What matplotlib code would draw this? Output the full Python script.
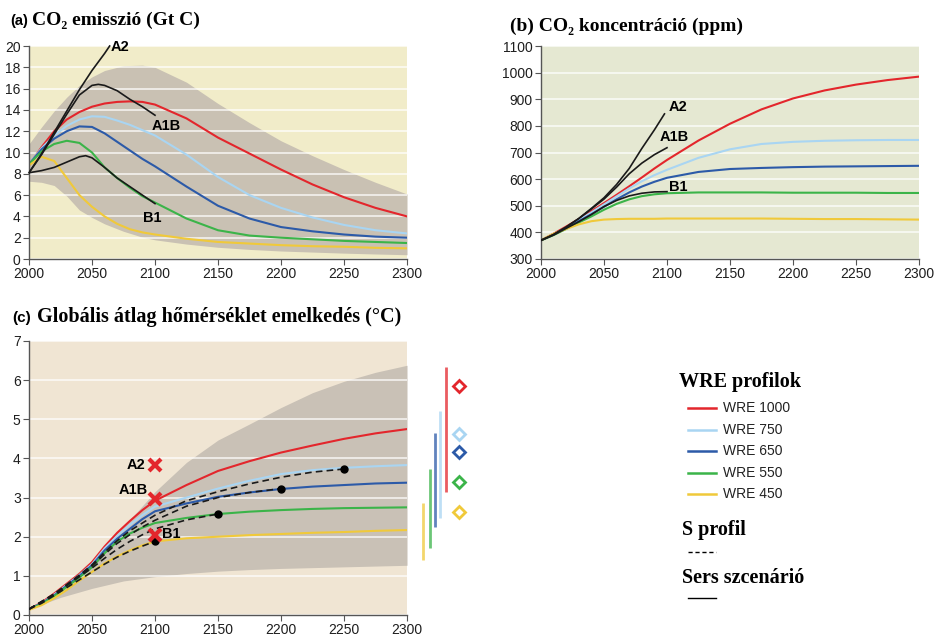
import matplotlib
matplotlib.use("Agg")
import matplotlib.pyplot as plt
from matplotlib.lines import Line2D

SANS = ["Liberation Sans", "DejaVu Sans"]
SERIF = ["Liberation Serif", "DejaVu Serif"]
plt.rcParams['font.family'] = SANS

# colours of the WRE profiles
C1000 = "#e3262c"
C750 = "#a9d5f2"
C650 = "#2c5aa8"
C550 = "#3bb449"
C450 = "#f0c93a"

# ---------------- (a) CO2 emissions ----------------
yrs = [2000, 2010, 2020, 2030, 2040, 2050, 2060, 2070, 2080, 2090, 2100,
       2125, 2150, 2175, 2200, 2225, 2250, 2275, 2300]
em_1000 = [8.8, 10.5, 12.0, 13.1, 13.8, 14.3, 14.6, 14.75, 14.8, 14.75, 14.5,
           13.2, 11.4, 9.9, 8.4, 7.0, 5.8, 4.8, 4.0]
em_750 = [8.9, 10.4, 11.6, 12.5, 13.1, 13.4, 13.35, 13.0, 12.6, 12.1, 11.6,
          9.8, 7.7, 6.0, 4.8, 3.9, 3.2, 2.7, 2.4]
em_650 = [8.9, 10.3, 11.3, 12.0, 12.45, 12.4, 11.8, 11.0, 10.2, 9.4, 8.7,
          6.8, 5.0, 3.8, 3.0, 2.6, 2.3, 2.1, 2.0]
em_550 = [8.9, 10.1, 10.8, 11.1, 10.9, 10.0, 8.6, 7.6, 6.7, 5.9, 5.3,
          3.8, 2.7, 2.2, 2.0, 1.85, 1.7, 1.6, 1.5]
em_450 = [8.8, 9.6, 9.2, 7.6, 6.0, 4.9, 4.0, 3.3, 2.8, 2.5, 2.3,
          1.9, 1.6, 1.45, 1.3, 1.2, 1.15, 1.05, 1.0]

em_band_yrs = [2000, 2010, 2020, 2030, 2040, 2050, 2060, 2075, 2090, 2100,
               2125, 2150, 2175, 2200, 2225, 2250, 2275, 2300]
em_band_hi = [10.8, 12.4, 13.9, 15.2, 16.3, 17.1, 17.7, 18.15, 18.2, 18.0,
              16.6, 14.6, 12.8, 11.1, 9.7, 8.4, 7.2, 6.1]
em_band_lo = [7.3, 7.2, 6.9, 5.9, 4.6, 3.9, 3.3, 2.6, 2.05, 1.8,
              1.4, 1.1, 0.9, 0.75, 0.65, 0.55, 0.47, 0.4]

em_a2_yrs = [2000, 2010, 2020, 2030, 2040, 2050, 2060, 2064]
em_a2 = [8.1, 9.9, 11.9, 13.9, 15.9, 17.7, 19.3, 20.0]
em_a1b_yrs = [2000, 2010, 2020, 2030, 2040, 2050, 2055, 2060, 2070, 2080, 2090, 2100]
em_a1b = [8.1, 9.8, 11.7, 13.6, 15.4, 16.3, 16.4, 16.3, 15.8, 15.0, 14.3, 13.5]
em_b1_yrs = [2000, 2010, 2020, 2030, 2040, 2045, 2050, 2060, 2070, 2080, 2090, 2100]
em_b1 = [8.1, 8.3, 8.6, 9.1, 9.6, 9.7, 9.5, 8.6, 7.6, 6.8, 6.0, 5.2]

# ---------------- (b) CO2 concentration ----------------
co_1000 = [370, 395, 422, 450, 480, 510, 541, 573, 606, 640, 672,
           745, 808, 862, 903, 933, 955, 972, 985]
co_750 = [370, 392, 418, 446, 475, 505, 535, 565, 592, 615, 635,
          680, 712, 732, 740, 744, 746, 747, 747]
co_650 = [370, 391, 416, 442, 468, 496, 524, 550, 572, 590, 605,
          627, 638, 642, 645, 647, 648, 649, 650]
co_550 = [370, 390, 413, 437, 460, 485, 507, 524, 536, 543, 547,
          550, 550, 550, 549, 549, 549, 548, 548]
co_450 = [370, 395, 413, 430, 442, 448, 450, 451, 451, 451, 452,
          452, 452, 452, 451, 450, 450, 449, 448]

co_sres_yrs = [2000, 2010, 2020, 2030, 2040, 2050, 2060, 2070, 2080, 2090, 2100]
co_a2_yrs = [2000, 2010, 2020, 2030, 2040, 2050, 2060, 2070, 2080, 2090, 2098]
co_a2 = [370, 392, 420, 452, 490, 530, 580, 640, 715, 785, 845]
co_a1b = [370, 392, 420, 452, 488, 525, 570, 620, 660, 692, 718]
co_b1 = [370, 390, 415, 440, 467, 497, 520, 537, 547, 552, 553]

# ---------------- (c) temperature ----------------
t_1000 = [0.15, 0.32, 0.55, 0.8, 1.05, 1.35, 1.75, 2.1, 2.4, 2.68, 2.92,
          3.32, 3.68, 3.93, 4.15, 4.33, 4.5, 4.64, 4.75]
t_750 = [0.15, 0.3, 0.52, 0.77, 1.02, 1.3, 1.7, 2.02, 2.3, 2.55, 2.77,
         3.0, 3.23, 3.43, 3.6, 3.7, 3.76, 3.8, 3.83]
t_650 = [0.15, 0.3, 0.5, 0.75, 1.0, 1.27, 1.65, 1.95, 2.2, 2.45, 2.65,
         2.85, 3.02, 3.13, 3.22, 3.28, 3.32, 3.36, 3.38]
t_550 = [0.15, 0.28, 0.48, 0.72, 0.96, 1.22, 1.58, 1.88, 2.08, 2.23, 2.35,
         2.48, 2.58, 2.64, 2.68, 2.71, 2.73, 2.74, 2.75]
t_450 = [0.13, 0.25, 0.43, 0.64, 0.88, 1.1, 1.32, 1.5, 1.65, 1.78, 1.88,
         1.96, 2.0, 2.04, 2.07, 2.1, 2.12, 2.15, 2.17]

s450_yrs = [2000, 2010, 2020, 2030, 2040, 2050, 2060, 2070, 2080, 2090, 2100]
s450 = [0.15, 0.3, 0.5, 0.7, 0.9, 1.1, 1.3, 1.48, 1.63, 1.76, 1.88]
s550_yrs = [2000, 2020, 2040, 2050, 2060, 2070, 2080, 2090, 2100, 2125, 2150]
s550 = [0.15, 0.52, 0.98, 1.2, 1.45, 1.68, 1.88, 2.05, 2.2, 2.43, 2.58]
s650_yrs = [2000, 2020, 2040, 2050, 2060, 2070, 2080, 2090, 2100, 2125, 2150, 2175, 2200]
s650 = [0.15, 0.53, 1.0, 1.25, 1.55, 1.83, 2.05, 2.25, 2.42, 2.78, 3.0, 3.13, 3.23]
s750_yrs = [2000, 2020, 2040, 2050, 2060, 2070, 2080, 2090, 2100, 2125, 2150,
            2175, 2200, 2225, 2250]
s750 = [0.15, 0.54, 1.02, 1.28, 1.6, 1.9, 2.15, 2.35, 2.55, 2.92, 3.15,
        3.35, 3.52, 3.65, 3.73]
stab_yrs = [2100, 2150, 2200, 2250]
stab_t = [1.88, 2.58, 3.23, 3.73]

t_band_yrs = [2000, 2025, 2050, 2075, 2100, 2125, 2150, 2175, 2200, 2225, 2250, 2275, 2300]
t_band_hi = [0.15, 0.7, 1.4, 2.25, 3.15, 3.9, 4.47, 4.88, 5.3, 5.68, 5.97, 6.2, 6.38]
t_band_lo = [0.15, 0.45, 0.68, 0.87, 0.98, 1.06, 1.12, 1.16, 1.19, 1.21, 1.23, 1.25, 1.27]

sres_names = ["A2", "A1B", "B1"]
sres_2100 = [3.82, 2.97, 2.05]

# equilibrium ranges beside panel (c)
eq_names = ["WRE 1000", "WRE 750", "WRE 650", "WRE 550", "WRE 450"]
eq_colors = [C1000, C750, C650, C550, C450]
eq_lo = [3.14, 2.48, 2.25, 1.71, 1.40]
eq_hi = [6.34, 5.21, 4.65, 3.73, 2.86]
eq_best = [5.85, 4.62, 4.16, 3.40, 2.63]
eq_bar_x = [2331, 2326, 2322, 2318, 2313]
eq_mark_x = 2341

wre_a = [em_1000, em_750, em_650, em_550, em_450]
wre_b = [co_1000, co_750, co_650, co_550, co_450]
wre_c = [t_1000, t_750, t_650, t_550, t_450]


def style(ax, bg, ylim, yticks):
    ax.set_facecolor(bg)
    ax.set_xlim(2000, 2300)
    ax.set_ylim(*ylim)
    ax.set_xticks(range(2000, 2301, 50))
    ax.set_yticks(yticks)
    ax.set_axisbelow("line")
    ax.yaxis.grid(True, color="white", lw=1.1, alpha=0.85)
    for s in ["top", "right"]:
        ax.spines[s].set_visible(False)
    for s in ["left", "bottom"]:
        ax.spines[s].set_color("#555555")
        ax.spines[s].set_linewidth(1.0)
    ax.tick_params(labelsize=10, length=4, color="#555555", labelcolor="#1e1e1e", pad=2)


fig = plt.figure(figsize=(9.35, 6.39), dpi=100)
W, H = 935.0, 639.0

# (a)
axa = fig.add_axes([29 / W, 1 - 259 / H, 378 / W, 213 / H])
style(axa, "#f1ecc9", (0, 20), range(0, 21, 2))
axa.fill_between(em_band_yrs, em_band_lo, em_band_hi, color="#c9c1b3", lw=0, zorder=1)
for vals, c in zip(wre_a, eq_colors):
    axa.plot(yrs, vals, color=c, lw=1.5, zorder=2)
axa.plot(em_a2_yrs, em_a2, color="#1a1a1a", lw=1.2, zorder=3, clip_on=False)
axa.plot(em_a1b_yrs, em_a1b, color="#1a1a1a", lw=1.2, zorder=3)
axa.plot(em_b1_yrs, em_b1, color="#1a1a1a", lw=1.2, zorder=3)
axa.text(2072, 19.9, "A2", fontsize=10.5, fontweight="bold", ha="center", va="center")
axa.text(2109, 12.5, "A1B", fontsize=10.5, fontweight="bold", ha="center", va="center")
axa.text(2098, 3.85, "B1", fontsize=10.5, fontweight="bold", ha="center", va="center")

# (b)
axb = fig.add_axes([541 / W, 1 - 259 / H, 378 / W, 213 / H])
style(axb, "#e5e8d2", (300, 1100), range(300, 1101, 100))
for vals, c in zip(wre_b, eq_colors):
    axb.plot(yrs, vals, color=c, lw=1.5, zorder=2)
axb.plot(co_a2_yrs, co_a2, color="#1a1a1a", lw=1.2, zorder=3)
axb.plot(co_sres_yrs, co_a1b, color="#1a1a1a", lw=1.2, zorder=3)
axb.plot(co_sres_yrs, co_b1, color="#1a1a1a", lw=1.2, zorder=3)
axb.text(2109, 872, "A2", fontsize=10.5, fontweight="bold", ha="center", va="center")
axb.text(2106, 757, "A1B", fontsize=10.5, fontweight="bold", ha="center", va="center")
axb.text(2109, 572, "B1", fontsize=10.5, fontweight="bold", ha="center", va="center")

# (c)
axc = fig.add_axes([29 / W, 1 - 615 / H, 378 / W, 274 / H])
style(axc, "#f0e5d3", (0, 7), range(0, 8))
axc.fill_between(t_band_yrs, t_band_lo, t_band_hi, color="#c9c1b6", lw=0, zorder=1)
for vals, c in zip(wre_c, eq_colors):
    axc.plot(yrs, vals, color=c, lw=1.5, zorder=2)
for xs, ys in [(s450_yrs, s450), (s550_yrs, s550), (s650_yrs, s650), (s750_yrs, s750)]:
    axc.plot(xs, ys, color="#1a1a1a", lw=1.2, ls=(0, (4, 2.5)), zorder=3)
axc.plot(stab_yrs, stab_t, "o", color="black", ms=5, zorder=4)
axc.plot([2100] * 3, sres_2100, "x", color="#e3262c", ms=8, mew=3, zorder=5)
axc.text(2085, sres_2100[0], sres_names[0], fontsize=10.5, fontweight="bold", ha="center", va="center")
axc.text(2083, sres_2100[1] + 0.22, sres_names[1], fontsize=10.5, fontweight="bold", ha="center", va="center")
axc.text(2113, sres_2100[2] + 0.03, sres_names[2], fontsize=10.5, fontweight="bold", ha="center", va="center")
for x, lo, hi, best, c in zip(eq_bar_x, eq_lo, eq_hi, eq_best, eq_colors):
    axc.plot([x, x], [lo, hi], color=c, lw=2, alpha=0.75, clip_on=False, solid_capstyle="butt")
    axc.plot([eq_mark_x], [best], "D", mfc="none", mec=c, mew=2, ms=6, clip_on=False)

# titles
fig.text(10 / W, 1 - 25 / H, "(a)", fontsize=10.5, fontweight="bold", family=SANS)
fig.text(32 / W, 1 - 25 / H, "CO\u2082 emisszió (Gt C)", fontsize=14, fontweight="bold", family=SERIF)
fig.text(510 / W, 1 - 31 / H, "(b) CO\u2082 koncentráció (ppm)", fontsize=14, fontweight="bold", family=SERIF)
fig.text(12 / W, 1 - 322 / H, "(c)", fontsize=11, fontweight="bold", family=SANS)
fig.text(37 / W, 1 - 322 / H, "Globális átlag hőmérséklet emelkedés (°C)", fontsize=14.5,
         fontweight="bold", family=SERIF)

# legend
fig.text(679 / W, 1 - 387 / H, "WRE profilok", fontsize=14.5, fontweight="bold", family=SERIF)
for i, (name, c) in enumerate(zip(eq_names, eq_colors)):
    ly = 1 - [408, 430, 451, 473, 494][i] / H
    fig.add_artist(Line2D([688 / W, 716 / W], [ly, ly], color=c, lw=1.8, transform=fig.transFigure))
    fig.text(723 / W, ly, name, fontsize=10, va="center", color="#222222")
fig.text(682 / W, 1 - 535 / H, "S profil", fontsize=14.5, fontweight="bold", family=SERIF)
fig.add_artist(Line2D([688 / W, 716 / W], [1 - 552 / H] * 2, color="black", lw=1,
                      ls=(0, (3, 2)), transform=fig.transFigure))
fig.text(682 / W, 1 - 583 / H, "Sers szcenárió", fontsize=14.5, fontweight="bold", family=SERIF)
fig.add_artist(Line2D([688 / W, 716 / W], [1 - 598 / H] * 2, color="black", lw=1,
                      transform=fig.transFigure))

fig.savefig("out.png", dpi=100)
